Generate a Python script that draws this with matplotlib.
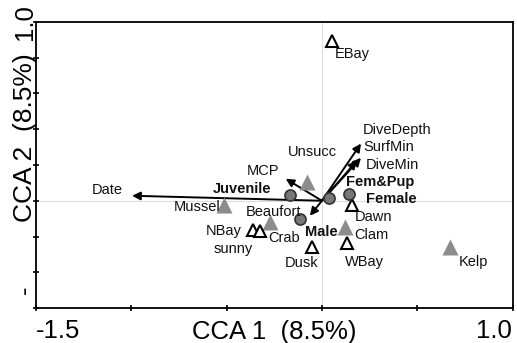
import matplotlib.pyplot as plt
import numpy as np

plt.rcParams['font.family'] = ['Liberation Sans', 'DejaVu Sans']

# group centroids (grey circles)
circleX = [-0.167, 0.037, 0.142, -0.115]
circleY = [0.032, 0.015, 0.037, -0.102]

# location / time factors (open triangles)
openNames = ["EBay", "Female", "WBay", "Dusk", "NBay", "Crab"]
openX = [0.053, 0.158, 0.132, -0.052, -0.362, -0.325]
openY = [0.894, -0.025, -0.236, -0.259, -0.164, -0.169]

# prey (grey triangles)
preyNames = ["Unsucc", "Mussel", "Beaufort", "Clam", "Kelp"]
preyX = [-0.078, -0.514, -0.272, 0.121, 0.672]
preyY = [0.105, -0.025, -0.119, -0.147, -0.259]

# environmental vectors
arrowNames = ["Date", "DiveDepth", "SurfMin", "DiveMin", "MCP", ""]
arrowX = [-0.996, 0.205, 0.205, 0.184, -0.19, -0.063]
arrowY = [0.028, 0.32, 0.24, 0.224, 0.123, -0.084]

# text labels
labels = ["Date", "EBay", "Unsucc", "MCP", "DiveDepth", "SurfMin", "DiveMin",
          "Fem&Pup", "Female", "Dawn", "Clam", "WBay", "Dusk", "Male", "Crab",
          "Beaufort", "Juvenile", "Mussel", "NBay", "sunny", "Kelp"]
labelX = [-1.206, 0.069, -0.178, -0.393, 0.216, 0.216, 0.231,
          0.126, 0.231, 0.174, 0.168, 0.121, -0.194, -0.089, -0.283,
          -0.398, -0.571, -0.776, -0.608, -0.566, 0.719]
labelY = [0.062, 0.821, 0.273, 0.166, 0.396, 0.301, 0.200,
          0.105, 0.010, -0.091, -0.192, -0.343, -0.348, -0.175, -0.208,
          -0.063, 0.066, -0.035, -0.169, -0.270, -0.343]
boldLabels = ["Fem&Pup", "Female", "Male", "Juvenile"]

fig = plt.figure(figsize=(5.17, 3.43), dpi=100)
ax = fig.add_axes([36/517, 1-308/343, 476.5/517, 286/343])

ax.set_xlim(-1.5, 1.0)
ax.set_ylim(-0.6, 1.0)
ax.axhline(0, color="#dddddd", lw=0.8, zorder=0)
ax.axvline(0, color="#dddddd", lw=0.8, zorder=0)

for i in range(len(arrowX)):
    ax.annotate("", xy=(arrowX[i], arrowY[i]), xytext=(0, 0),
                arrowprops=dict(arrowstyle="-|>", color="black", lw=1.4,
                                mutation_scale=12, shrinkA=0, shrinkB=0))

ax.plot(preyX, preyY, "^", color="#8c8c8c", ms=11.5, mec="none", zorder=3)
ax.plot(openX, openY, "^", mfc="white", mec="black", mew=1.5, ms=8.5, zorder=4)
ax.plot(circleX, circleY, "o", mfc="#777777", mec="#333333", mew=1.2, ms=8, zorder=5)

for i in range(len(labels)):
    w = "bold" if labels[i] in boldLabels else "normal"
    ax.text(labelX[i], labelY[i], labels[i], fontsize=10.5, fontweight=w,
            ha="left", va="center", color="#111111", zorder=6)

ax.set_xticks(np.arange(-1.5, 1.01, 0.5))
ax.set_yticks(np.arange(-0.6, 1.01, 0.2))
ax.set_xticklabels([])
ax.set_yticklabels([])
ax.tick_params(direction="inout", length=5, width=1.2)
for s in ax.spines.values():
    s.set_linewidth(1.3)

fig.text(36/517, 1-331.5/343, "-1.5", fontsize=18.5, ha="left", va="center")
fig.text(512/517, 1-331.5/343, "1.0", fontsize=18.5, ha="right", va="center")
fig.text(274/517, 1-331.5/343, "CCA 1  (8.5%)", fontsize=18.5, ha="center", va="center")
fig.text(25/517, 1-22/343, "1.0", fontsize=18.5, ha="center", va="center", rotation=90)
fig.text(25/517, 1-138/343, "CCA 2  (8.5%)", fontsize=19, ha="center", va="center", rotation=90)
fig.text(25/517, 1-290/343, "-", fontsize=18.5, ha="center", va="center", rotation=90)

fig.savefig("out.png", dpi=100)
